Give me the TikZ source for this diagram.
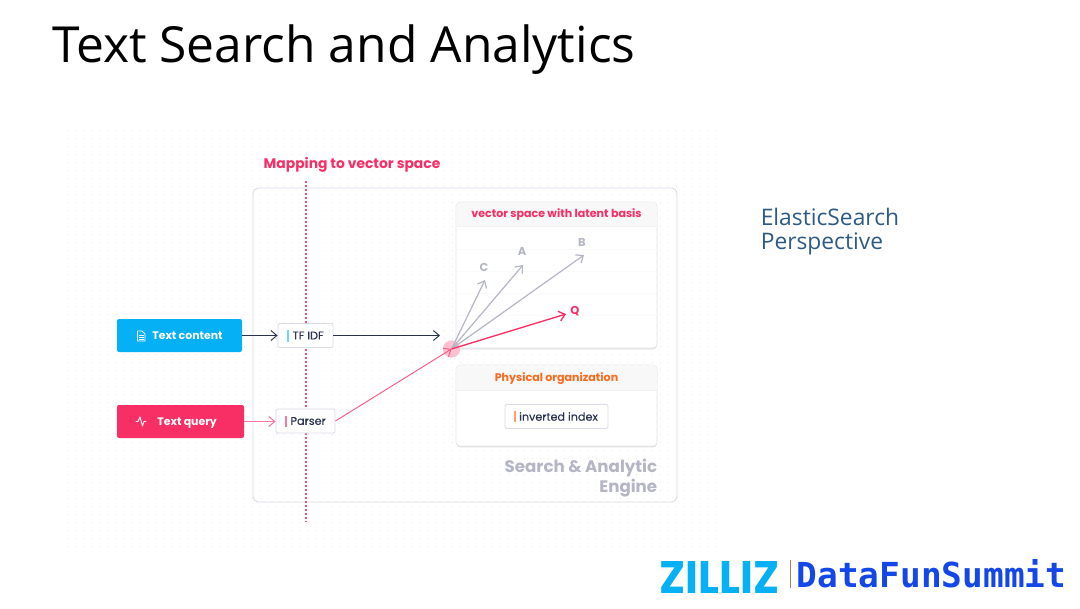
\documentclass[tikz,border=0pt]{standalone}
\usepackage{fontspec}
\setmainfont{Poppins}
\newfontfamily\titlefont{Open Sans}
\newfontfamily\monofnt{DejaVu Sans Mono}
\newfontfamily\medfnt[FakeBold=0.25]{Poppins}
\usetikzlibrary{arrows.meta,shadows}
\definecolor{pinkc}{HTML}{F72F64}
\definecolor{lpink}{HTML}{FB7A9C}
\definecolor{bluec}{HTML}{06B0F5}
\definecolor{orangec}{HTML}{F96A1C}
\definecolor{darkc}{HTML}{2B3350}
\definecolor{grayc}{HTML}{B5B6C5}
\definecolor{edgec}{HTML}{DADBE3}
\definecolor{dotc}{HTML}{E6E6EB}
\definecolor{headc}{HTML}{F8F8F9}
\definecolor{rulec}{HTML}{FAFAFB}
\definecolor{sidec}{HTML}{2F5A85}
\definecolor{logob}{HTML}{06B0F5}
\definecolor{logod}{HTML}{1447E8}
\tikzset{
  barb/.style={-{Straight Barb[length=4.5pt,width=7.5pt]}},
  cardbox/.style={draw=edgec!70,line width=.4pt,fill=white,rounded corners=3pt,inner sep=0pt,
    drop shadow={shadow xshift=0pt,shadow yshift=-1pt,opacity=.12,fill=black}},
  btn/.style={rounded corners=1.5pt,inner sep=0pt,minimum height=24.75pt,text=white,
    text height=6pt,text depth=0pt,
    font=\fontsize{8.2}{10}\selectfont\bfseries},
  tagbox/.style={draw=edgec,line width=.6pt,fill=white,rounded corners=1.5pt,inner sep=0pt,
    minimum height=18pt,text=darkc,font=\medfnt\fontsize{8.4}{10}\selectfont},
  headtxt/.style={font=\fontsize{8.3}{10}\selectfont\bfseries},
  veclabel/.style={font=\fontsize{8.6}{10}\selectfont\bfseries,inner sep=0pt},
  gvec/.style={barb,draw=grayc,line width=.9pt},
  pvec/.style={barb,draw=pinkc,line width=1pt},
}
\begin{document}
\begin{tikzpicture}[x=0.75pt,y=-0.75pt]
\useasboundingbox (0,0) rectangle (1080,608);
\fill[white] (0,0) rectangle (1080,608);
% dotted background
\foreach \yy in {130,138,...,546}
  \draw[dotc,line width=.75pt,dash pattern=on .75pt off 5.25pt] (68,\yy) -- (718,\yy);
% title
\node[anchor=west,inner sep=0pt,font=\titlefont\fontsize{37.3}{44}\selectfont] (title) at (52,50) {Text Search and Analytics};
% engine box
\node[draw=edgec,line width=.6pt,rounded corners=4pt,minimum width=318pt,minimum height=235.5pt,inner sep=0pt] (engine) at (465,345) {};
% mapping line
\coordinate (mtop) at (306,181);
\coordinate (mbot) at (306,522);
\draw[pinkc!85,line width=.9pt,dash pattern=on 1.2pt off 1.8pt] (mtop) -- (mbot);
\node[anchor=center,inner sep=0pt,text=pinkc,font=\fontsize{10.4}{12}\selectfont\bfseries] (map) at (352,164.5) {Mapping to vector space};
% vector card
\node[cardbox,minimum width=150.75pt,minimum height=109.5pt] (vcard) at (556.5,275) {};
\fill[headc,rounded corners=3pt] (456.5,226) -- (456.5,202.5) -- (656.5,202.5) -- (656.5,226) -- cycle;
\fill[headc] (456.5,220) rectangle (656.5,226);
\draw[edgec!40,line width=.3pt] (456.5,226) -- (656.5,226);
\foreach \yy in {249,271,293,315}
  \draw[rulec,line width=.5pt] (457,\yy) -- (656,\yy);
\node[headtxt,text=pinkc,inner sep=0pt] (vtitle) at (556.5,215) {vector space with latent basis};
% physical card
\node[cardbox,minimum width=150.75pt,minimum height=60.75pt] (pcard) at (556.5,405.5) {};
\fill[headc,rounded corners=3pt] (456.5,390) -- (456.5,365.5) -- (656.5,365.5) -- (656.5,390) -- cycle;
\fill[headc] (456.5,384) rectangle (656.5,390);
\draw[edgec!40,line width=.3pt] (456.5,390) -- (656.5,390);
\node[headtxt,text=orangec,inner sep=0pt] (ptitle) at (556.5,378.5) {Physical organization};
% inverted index
\node[tagbox,minimum width=77.25pt] (inv) at (556.5,416.5) {\hspace{3pt}inverted index};
\draw[orangec!65,line width=1.1pt] (515,411) -- (515,422);
% engine caption
\node[anchor=east,align=right,inner sep=0pt,text=grayc,font=\fontsize{12.5}{15}\selectfont\bfseries] (ecap) at (657.5,478) {Search \& Analytic\\Engine};
% buttons
\node[btn,fill=bluec,minimum width=93.75pt] (tc) at (179.5,335.5) {\hspace{12pt}Text content};
\node[btn,fill=pinkc,minimum width=95.25pt] (tq) at (180.5,421.5) {\hspace{10pt}Text query};
% doc icon
\draw[white,line width=.6pt,line join=round] (137.5,331) -- (142,331) -- (145,334) -- (145,341) -- (137.5,341) -- cycle;
\draw[white,line width=.4pt] (139,335.5) -- (143.5,335.5) (139,337.5) -- (143.5,337.5) (139,339.3) -- (143.5,339.3);
% pulse icon
\draw[white,line width=.7pt,line join=round] (135.5,421.5) -- (138,421.5) -- (140,417) -- (142.5,426) -- (144,421.5) -- (146,421.5);
% tags
\node[tagbox,minimum width=41.25pt] (tf) at (305.5,335.5) {\hspace{4pt}TF IDF};
\node[tagbox,minimum width=44.25pt] (par) at (305.5,421) {\hspace{4pt}Parser};
\draw[bluec!55,line width=1.2pt] (288,330) -- (288,341.5);
\draw[lpink,line width=1.3pt] (286,416) -- (286,427);
% origin
\node[circle,fill=pinkc!30,draw=none,minimum size=13pt,inner sep=0pt] (org) at (451.5,349) {};
\coordinate (o) at (451.5,349);
% connectors
\coordinate (tfend) at (440,335.5);
\draw[barb,darkc,line width=.7pt] (tc.east) -- (tf.west);
\draw[barb,darkc,line width=.7pt] (tf.east) -- (tfend);
\draw[barb,lpink,line width=.8pt] (tq.east) -- (par.west |- tq.east);
\draw[barb,pinkc!80,line width=.7pt] (par.east) -- (o);
% vectors
\coordinate (vc) at (485,280);
\coordinate (va) at (523,265);
\coordinate (vb) at (584,255);
\coordinate (vq) at (566,314);
\draw[gvec] (o) -- (vc);
\draw[gvec] (o) -- (va);
\draw[gvec] (o) -- (vb);
\draw[pvec] (o) -- (vq);
\node[veclabel,text=grayc] (lc) at (484,267) {C};
\node[veclabel,text=grayc] (la) at (522,251.5) {A};
\node[veclabel,text=grayc] (lb) at (582,242.5) {B};
\node[veclabel,text=pinkc] (lq) at (575,311) {Q};
% side text
\node[anchor=north west,align=left,inner sep=0pt,text=sidec,font=\titlefont\fontsize{17.1}{18}\selectfont] (side) at (760.5,208) {ElasticSearch\\Perspective};
% logo
\node[inner sep=0pt,text=logob,font=\fontsize{30}{30}\selectfont\bfseries] (zl) at (719.5,577) {\resizebox{90pt}{24pt}{ZILLIZ}};
\coordinate (ba) at (790,560);
\coordinate (bb) at (790,588);
\draw[gray!70!orange,line width=.6pt] (ba) -- (bb);
\node[inner sep=0pt,text=logod,font=\monofnt\bfseries] (dfs) at (931.5,574) {\resizebox{202pt}{21pt}{DataFunSummit}};
\end{tikzpicture}
\end{document}
